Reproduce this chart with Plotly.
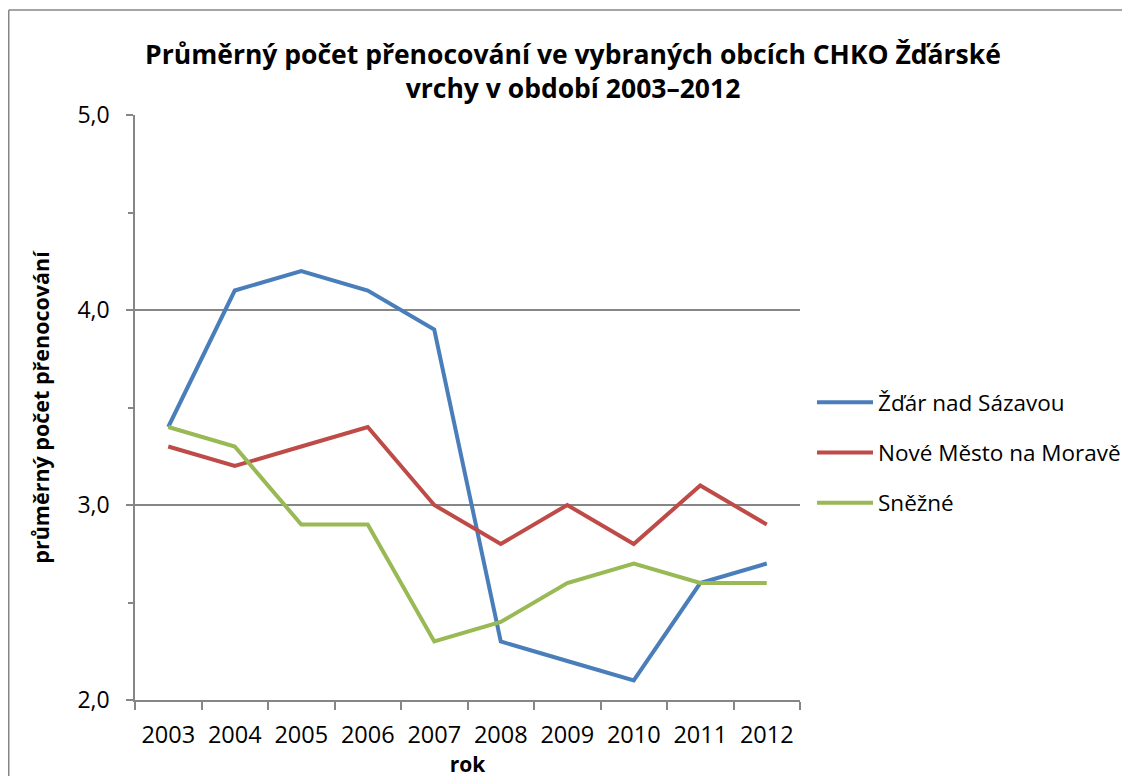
import plotly.graph_objects as go

years = ["2003", "2004", "2005", "2006", "2007", "2008", "2009", "2010", "2011", "2012"]
zdar = [3.4, 4.1, 4.2, 4.1, 3.9, 2.3, 2.2, 2.1, 2.6, 2.7]
nove_mesto = [3.3, 3.2, 3.3, 3.4, 3.0, 2.8, 3.0, 2.8, 3.1, 2.9]
snezne = [3.4, 3.3, 2.9, 2.9, 2.3, 2.4, 2.6, 2.7, 2.6, 2.6]

series_names = ["Žďár nad Sázavou", "Nové Město na Moravě", "Sněžné"]
series_values = [zdar, nove_mesto, snezne]
colors = ["#4A7EBB", "#BE4B48", "#98B954"]

FONT = "'Open Sans', sans-serif"

fig = go.Figure()
for i, (name, vals, col) in enumerate(zip(series_names, series_values, colors)):
    fig.add_trace(go.Scatter(
        x=years, y=vals, mode="lines", name=name,
        line=dict(color=col, width=4),
        legendgroup=f"g{i}",
    ))

W, H = 1130, 776
L, R, T, B = 127, 338, 107, 84
pw, ph = W - L - R, H - T - B

def px_x(x):
    return (x - L) / pw

def px_y(y):
    return 1 - (y - T) / ph

fig.update_layout(
    width=W, height=H,
    margin=dict(l=L, r=R, t=T, b=B, autoexpand=False),
    paper_bgcolor="white", plot_bgcolor="white",
    separators=", ",
    font=dict(family=FONT, size=22, color="black"),
    title=dict(
        text="<b>Průměrný počet přenocování ve vybraných obcích CHKO Žďárské<br>vrchy v období 2003–2012</b>",
        xref="container", x=565 / W, xanchor="center",
        yref="container", y=1 - 56 / H, yanchor="middle",
        font=dict(size=26.5, family=FONT),
    ),
    showlegend=True,
    legend=dict(
        x=px_x(804), xanchor="left", y=px_y(373), yanchor="top",
        font=dict(size=22.5, family=FONT),
        tracegroupgap=18, itemwidth=56,
        bgcolor="rgba(0,0,0,0)",
    ),
    xaxis=dict(
        type="category", tickson="boundaries", automargin=False,
        showline=True, linecolor="#868686", linewidth=1.5,
        ticks="outside", ticklen=8, tickcolor="#868686", tickwidth=1.5,
        showgrid=False, ticklabelstandoff=13,
        tickfont=dict(size=23.5, family=FONT),
        title=dict(text="<b>rok</b>", font=dict(size=21, family=FONT), standoff=4),
        range=[-0.5, 9.5],
    ),
    yaxis=dict(
        range=[2.0, 5.0], dtick=1.0, tick0=2.0, tickformat=".1f", automargin=False,
        showline=True, linecolor="#868686", linewidth=1.5,
        ticks="outside", ticklen=7, tickcolor="#868686", tickwidth=1.5,
        showgrid=True, gridcolor="#868686", gridwidth=1.5,
        zeroline=False, ticklabelstandoff=12,
        minor=dict(dtick=0.5, ticks="outside", ticklen=5, tickcolor="#868686", tickwidth=1.5, showgrid=False),
        tickfont=dict(size=23, family=FONT),
        title=dict(text="<b>průměrný počet přenocování</b>", font=dict(size=21.5, family=FONT), standoff=22),
    ),
)

# chart-area border (top and left edges visible)
fig.add_shape(type="line", xref="paper", yref="paper",
              x0=px_x(0.75), x1=px_x(1200), y0=px_y(2), y1=px_y(2),
              line=dict(color="#868686", width=1.5))
fig.add_shape(type="line", xref="paper", yref="paper",
              x0=px_x(0.75), x1=px_x(0.75), y0=px_y(2), y1=px_y(900),
              line=dict(color="#868686", width=1.5))

fig.write_html("out.html")
